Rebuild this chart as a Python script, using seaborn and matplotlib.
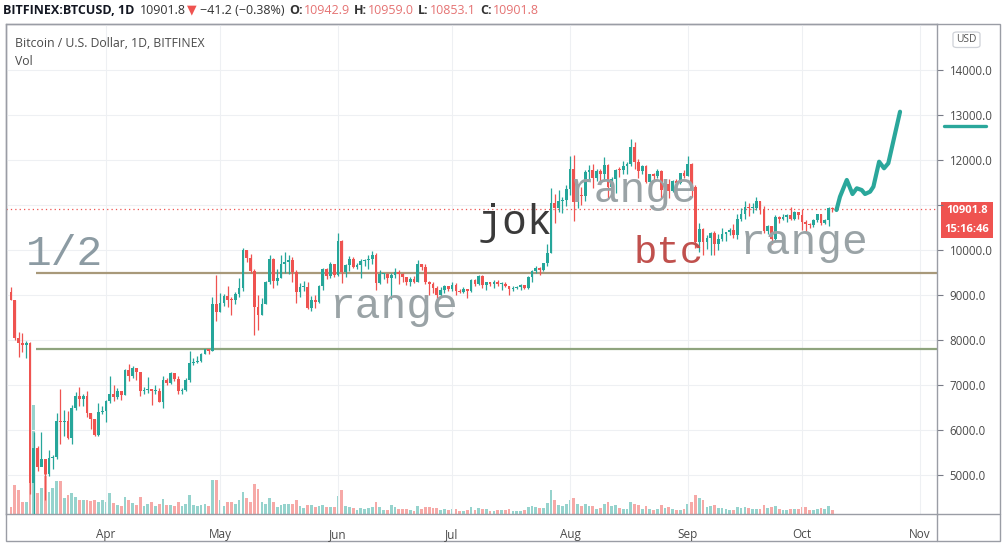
import numpy as np
import pandas as pd
import matplotlib
matplotlib.use("Agg")
import matplotlib.pyplot as plt
import matplotlib.dates as mdates
from matplotlib.patches import Rectangle, FancyBboxPatch
from matplotlib.lines import Line2D
from matplotlib.transforms import blended_transform_factory
import seaborn as sns

# ---------------- data ----------------
start_date = "2020-03-07"
first_open = 9065.0

closes = [
    # Mar 7-31
    8900, 8035, 7935, 7890, 7940, 4830, 5600, 5170, 5360, 5020, 5370, 5400, 6200, 6180, 6200, 5830, 6480, 6760, 6690, 6760, 6380, 6250, 5880, 6400, 6420,
    # Apr
    6640, 6800, 6740, 6860, 6780, 7330, 7200, 7370, 7300, 6870, 6890, 6910, 6860, 6870, 6630, 7110, 7040, 7260, 7130, 6870, 6880, 7120, 7480, 7510, 7540, 7690, 7790, 7760, 8790, 8630,
    # May
    8830, 8970, 8900, 8880, 9030, 9150, 9990, 9820, 9540, 8730, 8560, 8810, 9300, 9790, 9320, 9380, 9680, 9730, 9780, 9510, 9070, 9170, 9180, 8720, 8900, 8840, 9200, 9570, 9430, 9700, 9450,
    # Jun
    10200, 9520, 9660, 9800, 9630, 9670, 9760, 9780, 9790, 9890, 9270, 9460, 9470, 9380, 9450, 9520, 9460, 9390, 9300, 9360, 9290, 9680, 9620, 9290, 9250, 9160, 9010, 9120, 9190, 9140,
    # Jul
    9230, 9090, 9060, 9130, 9080, 9340, 9250, 9430, 9230, 9290, 9240, 9300, 9240, 9250, 9190, 9130, 9160, 9180, 9220, 9160, 9390, 9530, 9610, 9550, 9710, 9930, 11050, 10930, 11100, 11110, 11350,
    # Aug
    11800, 11070, 11230, 11190, 11740, 11770, 11600, 11750, 11680, 11890, 11390, 11570, 11780, 11770, 11870, 11910, 12290, 11960, 11750, 11860, 11520, 11680, 11650, 11750, 11330, 11470, 11320, 11530, 11480, 11710, 11650,
    # Sep
    11920, 11400, 10170, 10470, 10170, 10260, 10370, 10130, 10240, 10360, 10400, 10440, 10330, 10680, 10790, 10950, 10940, 10940, 11080, 10920, 10420, 10530, 10240, 10740, 10690, 10730, 10780, 10700, 10840, 10780,
    # Oct 1-9
    10620, 10570, 10550, 10670, 10790, 10600, 10670, 10942.9, 10901.8,
]

highs = [
    9180, 8900, 8170, 8150, 7980, 7950, 5950, 5650, 5950, 5360, 5550, 5450, 6380, 6920, 6450, 6420, 6560, 6850, 6960, 6790, 6870, 6380, 6250, 6610, 6530,
    6670, 7190, 7000, 6930, 6860, 7360, 7460, 7420, 7380, 7300, 6950, 7170, 6910, 6990, 6930, 7190, 7150, 7300, 7270, 7200, 6940, 7150, 7750, 7590, 7640, 7720, 7800, 7790, 8960, 9450,
    9050, 9020, 9190, 8950, 9070, 9380, 10050, 10000, 9920, 9570, 9000, 8940, 9320, 9880, 9820, 9580, 9880, 9950, 9890, 9840, 9560, 9270, 9310, 9300, 8980, 9010, 9220, 9610, 9600, 9740, 9700,
    10380, 10230, 9690, 9870, 9850, 9710, 9800, 9800, 9880, 9980, 9940, 9550, 9490, 9500, 9500, 9590, 9550, 9480, 9400, 9400, 9420, 9780, 9680, 9680, 9320, 9280, 9200, 9180, 9230, 9200,
    9300, 9260, 9130, 9180, 9140, 9360, 9360, 9450, 9440, 9300, 9300, 9340, 9340, 9280, 9280, 9200, 9190, 9200, 9240, 9230, 9420, 9560, 9650, 9620, 9720, 10130, 11380, 11240, 11340, 11170, 11450,
    12080, 12120, 11470, 11400, 11780, 11890, 11910, 11800, 11800, 12070, 11920, 11620, 11800, 11840, 11970, 11950, 12470, 12400, 12030, 11890, 11880, 11700, 11710, 11800, 11770, 11530, 11580, 11550, 11580, 11720, 11780,
    12080, 11940, 11440, 10590, 10500, 10340, 10390, 10420, 10350, 10480, 10400, 10480, 10580, 10800, 10940, 11090, 11040, 11050, 11180, 11080, 10980, 10560, 10540, 10770, 10760, 10800, 10800, 10950, 10860, 10850,
    10920, 10660, 10600, 10690, 10800, 10800, 10690, 10950, 10959.0,
]

lows = [
    8880, 8000, 7630, 7730, 7600, 4580, 3850, 5080, 5200, 4450, 4980, 5140, 5350, 5680, 5860, 5790, 5700, 6450, 6540, 6530, 6300, 6030, 5860, 5860, 6350,
    6170, 6600, 6650, 6680, 6670, 6780, 7080, 7150, 7110, 6760, 6800, 6830, 6560, 6800, 6620, 6500, 7000, 7030, 7080, 6800, 6800, 6860, 7070, 7450, 7480, 7510, 7680, 7690, 7750, 8420,
    8630, 8760, 8730, 8560, 8800, 8950, 9100, 9730, 9500, 8120, 8230, 8550, 8800, 9250, 9150, 9220, 9370, 9480, 9470, 9300, 8820, 8950, 9100, 8700, 8640, 8720, 8820, 9110, 9350, 9370, 9400,
    9420, 9270, 9400, 9530, 9590, 9580, 9380, 9640, 9580, 9700, 9110, 9250, 9360, 9260, 8920, 9370, 9250, 9280, 9220, 9200, 9270, 9280, 9560, 9240, 9000, 9040, 8840, 8960, 9050, 9090,
    9090, 8990, 9040, 9050, 8940, 9060, 9200, 9230, 9150, 9120, 9200, 9160, 9200, 9110, 9170, 9010, 9090, 9130, 9110, 9140, 9140, 9290, 9490, 9450, 9530, 9650, 9930, 10600, 10850, 10830, 10980,
    11220, 10650, 10930, 11010, 11100, 11560, 11370, 11540, 11520, 11530, 11150, 11200, 11270, 11620, 11700, 11690, 11860, 11810, 11610, 11680, 11500, 11400, 11550, 11590, 11130, 11270, 11150, 11300, 11440, 11460, 11600,
    11640, 11180, 10050, 9960, 9880, 10020, 9880, 9890, 10010, 10200, 10200, 10330, 10270, 10240, 10640, 10700, 10760, 10820, 10890, 10810, 10370, 10350, 10140, 10200, 10600, 10660, 10630, 10660, 10660, 10700,
    10450, 10400, 10500, 10520, 10630, 10550, 10580, 10540, 10853.1,
]

volumes = [
    7, 29, 24, 12, 12, 75, 109, 21, 26, 42, 22, 26, 33, 33, 16, 19, 21, 17, 14, 14, 14, 13, 14, 12, 14,
    12, 21, 11, 9, 8, 17, 14, 11, 9, 17, 8, 10, 12, 8, 10, 15, 9, 9, 8, 12, 8, 10, 19, 9, 8, 9, 10, 8, 34, 34,
    14, 8, 12, 12, 10, 14, 22, 16, 12, 30, 25, 12, 10, 16, 12, 7, 9, 10, 10, 10, 14, 8, 6, 9, 9, 7, 8, 9, 7, 7, 7,
    18, 24, 8, 7, 6, 4, 6, 5, 6, 7, 12, 7, 4, 4, 9, 7, 5, 5, 5, 4, 3, 8, 5, 7, 7, 6, 6, 4, 5, 4,
    5, 5, 3, 3, 4, 7, 4, 6, 5, 5, 3, 3, 4, 4, 4, 5, 3, 3, 3, 4, 7, 8, 7, 6, 6, 11, 24, 14, 9, 8, 10,
    14, 16, 10, 8, 10, 8, 8, 5, 6, 10, 12, 8, 9, 6, 5, 5, 12, 10, 9, 5, 8, 5, 4, 5, 9, 6, 7, 5, 4, 4, 5,
    10, 12, 19, 16, 14, 7, 8, 9, 6, 6, 5, 4, 4, 7, 6, 7, 6, 5, 5, 5, 9, 6, 7, 8, 5, 4, 4, 5, 5, 5,
    7, 7, 4, 4, 5, 6, 5, 8, 4,
]

level_half = 9480.0
level_support = 7800.0
level_start = "2020-03-13 14:00"
last_price = 10901.8

proj_dates = ["2020-10-10 02:00", "2020-10-11 00:00", "2020-10-12 19:00", "2020-10-14 07:00",
              "2020-10-15 10:00", "2020-10-16 17:00", "2020-10-17 14:00", "2020-10-18 22:00",
              "2020-10-19 19:00", "2020-10-21 07:00", "2020-10-22 14:00", "2020-10-23 17:00",
              "2020-10-25 12:00", "2020-10-26 19:00"]
proj_prices = [10889, 11184, 11556, 11244, 11371, 11333, 11244, 11296, 11407, 11962, 11816, 11927, 12593, 13073]
axis_marker_price = 12756

month_ticks = ["2020-04-01", "2020-05-01", "2020-06-01", "2020-07-01",
               "2020-08-01", "2020-09-01", "2020-10-01", "2020-11-01"]
month_labels = ["Apr", "May", "Jun", "Jul", "Aug", "Sep", "Oct", "Nov"]
price_ticks = [5000, 6000, 7000, 8000, 9000, 10000, 11000, 12000, 13000, 14000]
hidden_price_ticks = [11000]   # covered by the last-price badge

notes = [  # text, date, price, color, size
    ("1/2",   "2020-03-11 00:00", 9667,  "#8c9ba3", 31),
    ("range", "2020-05-29 22:00", 8489,  "#9aa3a6", 31),
    ("jok",   "2020-07-07 19:00", 10356, "#3a3a3a", 30),
    ("range", "2020-07-31 17:00", 11067, "#9aa3a6", 31),
    ("btc",   "2020-08-17 19:00", 9711,  "#c0504d", 28),
    ("range", "2020-09-14 17:00", 9911,  "#9aa3a6", 31),
]

# ---------------- style ----------------
sns.set_style("white")
plt.rcParams["font.family"] = ["Open Sans", "DejaVu Sans"]

UP, DOWN = "#26a69a", "#ef5350"
VUP, VDOWN = "#96d3cd", "#f6a9a7"
TEAL = "#2aa79b"
FRAME = "#9a9da5"

W, H = 1004, 544
fig = plt.figure(figsize=(W / 100, H / 100), dpi=100)
fig.patch.set_facecolor("white")

def fx(px):
    return px / W

def fy(py):
    return 1 - py / H

L, R, T, B = 6, 937, 24, 514
rect = [fx(L), fy(B), (R - L) / W, (B - T) / H]
axv = fig.add_axes(rect)
ax = fig.add_axes(rect, sharex=axv)
axv.set_zorder(1)
ax.set_zorder(2)
ax.patch.set_visible(False)

dates = pd.date_range(start_date, periods=len(closes), freq="D")
opens = [first_open] + closes[:-1]
df = pd.DataFrame({"date": dates, "open": opens, "high": highs, "low": lows,
                   "close": closes, "volume": volumes})
df["x"] = mdates.date2num(df["date"])
up = df["close"] >= df["open"]

body_w = 0.72
for mask, col, vcol in ((up, UP, VUP), (~up, DOWN, VDOWN)):
    d = df[mask]
    axv.bar(d["x"], d["volume"], width=body_w, color=vcol, lw=0)
    ax.vlines(d["x"], d["low"], d["high"], color=col, lw=0.9, zorder=3)
    hgt = (d["close"] - d["open"]).abs().clip(lower=22)
    ax.bar(d["x"], hgt, bottom=np.minimum(d["open"], d["close"]), width=body_w,
           color=col, lw=0, zorder=4)

axv.set_ylim(0, B - T)
axv.axis("off")

apr1 = mdates.date2num(pd.Timestamp("2020-04-01"))
px_per_day = 3.803
xl = apr1 + (L - 106) / px_per_day
xr = apr1 + (R - 106) / px_per_day

# horizontal levels
xs = mdates.date2num(pd.Timestamp(level_start))
ax.hlines(level_half, xs, xr, color="#a8997a", lw=1.6, zorder=2)
ax.hlines(level_support, xs, xr, color="#8fa47e", lw=1.6, zorder=2)
ax.axhline(last_price, color="#ef5350", lw=0.9, ls=(0, (1, 2.5)), zorder=2)

# projection path
proj = pd.DataFrame({"date": mdates.date2num(pd.to_datetime(proj_dates)), "price": proj_prices})
sns.lineplot(data=proj, x="date", y="price", ax=ax, color=TEAL, lw=3.0, sort=False,
             estimator=None, zorder=6, solid_capstyle="round", solid_joinstyle="round")

# annotations
for txt, dt, pr, colr, size in notes:
    ax.text(mdates.date2num(pd.Timestamp(dt)), pr, txt, family="Liberation Mono",
            fontsize=size, color=colr, ha="left", va="baseline", zorder=7)

ax.set_xlim(xl, xr)
ylo = 10000 - (B - 250) / 0.045
yhi = 10000 + (250 - T) / 0.045
ax.set_ylim(ylo, yhi)
ax.set_xlabel("")
ax.set_ylabel("")

ax.set_xticks(mdates.date2num(pd.to_datetime(month_ticks)))
ax.set_xticklabels(month_labels)
ax.yaxis.tick_right()
ax.set_yticks(price_ticks)
ax.set_yticklabels(["" if v in hidden_price_ticks else f"{v:.1f}" for v in price_ticks])
ax.tick_params(axis="y", length=4, color="#787b86", labelsize=8.3, labelcolor="#4a4a4a", pad=5)
ax.tick_params(axis="x", length=4, color="#787b86", labelsize=8.5, labelcolor="#4a4a4a", pad=6)
ax.grid(True, color="#eef0f3", lw=0.8)
ax.set_axisbelow(True)
for s in ax.spines.values():
    s.set_color(FRAME)
    s.set_linewidth(1)

# teal marker on price axis
trans = blended_transform_factory(ax.transAxes, ax.transData)
ax.plot([(944 - L) / (R - L), (986 - L) / (R - L)], [axis_marker_price] * 2, transform=trans,
        color=TEAL, lw=2.4, clip_on=False, solid_capstyle="round", zorder=8)

# outer frame and axis separators
fig.add_artist(Rectangle((fx(6), fy(541)), (1000 - 6) / W, (541 - 24) / H, transform=fig.transFigure,
                         fill=False, edgecolor=FRAME, lw=1))
fig.add_artist(Line2D([fx(R), fx(R)], [fy(514), fy(541)], transform=fig.transFigure, color=FRAME, lw=1))
fig.add_artist(Line2D([fx(R), fx(1000)], [fy(514), fy(514)], transform=fig.transFigure, color=FRAME, lw=1))

# price labels on axis
fig.add_artist(Rectangle((fx(941), fy(219.5)), 52 / W, 17.5 / H, transform=fig.transFigure,
                         color="#ef5350", lw=0))
fig.add_artist(Rectangle((fx(941), fy(238)), 52 / W, 17.5 / H, transform=fig.transFigure,
                         color="#ef5350", lw=0))
fig.text(fx(967), fy(210.8), f"{last_price:.1f}", color="white", fontsize=8.0, ha="center",
         va="center", fontweight="bold")
fig.text(fx(967), fy(229.3), "15:16:46", color="white", fontsize=8.0, ha="center",
         va="center", fontweight="bold")

# USD box
fig.add_artist(FancyBboxPatch((fx(953), fy(47.5)), 27 / W, 15.5 / H, transform=fig.transFigure,
                              boxstyle="round,pad=0,rounding_size=0.004", facecolor="white",
                              edgecolor="#cfd2d8", lw=0.9))
fig.text(fx(966.5), fy(39.7), "USD", color="#555555", fontsize=7.4, ha="center", va="center")

# legend texts
fig.text(fx(15), fy(43.5), "Bitcoin / U.S. Dollar, 1D, BITFINEX", color="#4a4a4a",
         fontsize=8.8, ha="left", va="center")
fig.text(fx(15), fy(61.5), "Vol", color="#4a4a4a", fontsize=8.8, ha="left", va="center")

# header line
renderer = fig.canvas.get_renderer()
pieces = [
    ("BITFINEX:BTCUSD, 1D", "bold", "#131722", 6),
    ("10901.8", "normal", "#333333", 1),
    ("\u25bc", "normal", "#ef5350", 3),
    ("\u221241.2 (\u22120.38%)", "normal", "#333333", 5),
    ("O:", "bold", "#333333", 1),
    ("10942.9", "normal", "#e57373", 4),
    ("H:", "bold", "#333333", 1),
    ("10959.0", "normal", "#e57373", 4),
    ("L:", "bold", "#333333", 1),
    ("10853.1", "normal", "#e57373", 4),
    ("C:", "bold", "#333333", 1),
    ("10901.8", "normal", "#e57373", 0),
]
xpos = 3
for s, wgt, colr, gap in pieces:
    t = fig.text(fx(xpos), fy(10), s, fontsize=9.0, fontweight=wgt, color=colr,
                 ha="left", va="center")
    bb = t.get_window_extent(renderer)
    xpos = bb.x1 + gap

fig.savefig("out.png", dpi=100, facecolor="white")
